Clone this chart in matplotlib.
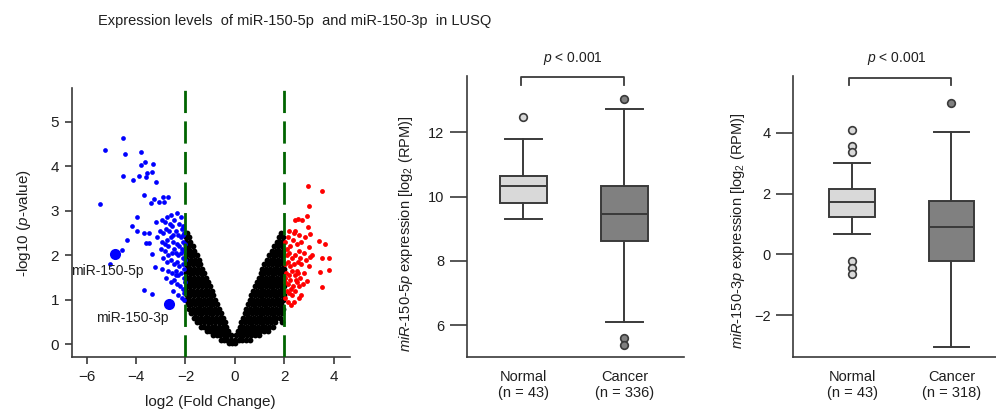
import matplotlib
matplotlib.use('Agg')
import matplotlib.pyplot as plt

plt.rcParams['font.family'] = ['Liberation Sans', 'DejaVu Sans']
plt.rcParams['mathtext.fontset'] = 'custom'
plt.rcParams['mathtext.rm'] = 'Liberation Sans'
plt.rcParams['mathtext.it'] = 'Liberation Sans:italic'
plt.rcParams['mathtext.bf'] = 'Liberation Sans:bold'

TXT = '#1f1f1f'
AX = '#3a3a3a'

# ---- volcano data ----
blue_x = [-4.55, -5.25, -4.44, -3.81, -3.64, -3.79, -3.30, -4.52, -4.11, -3.87, -3.62, -3.37, -3.57,
          -3.19, -3.70, -5.45, -3.28, -2.91, -2.71, -3.07, -2.88, -3.38, -3.96, -4.15, -3.96, -4.35,
          -4.59, -5.06, -3.69, -3.48, -3.49, -3.62, -3.34, -3.25, -3.69, -3.36,
          -2.95, -2.85, -2.75, -2.60, -2.45, -2.35, -2.25, -2.15, -2.05,
          -3.05, -2.90, -2.80, -2.65, -2.55, -2.40, -2.30, -2.20, -2.10, -2.02,
          -3.15, -2.95, -2.75, -2.60, -2.50, -2.35, -2.25, -2.15, -2.05,
          -3.00, -2.85, -2.70, -2.55, -2.45, -2.30, -2.20, -2.10, -2.03,
          -2.90, -2.75, -2.60, -2.45, -2.35, -2.25, -2.12, -2.05,
          -2.95, -2.70, -2.55, -2.40, -2.30, -2.18, -2.08, -2.02,
          -2.80, -2.60, -2.45, -2.35, -2.22, -2.12, -2.05,
          -2.50, -2.30, -2.15, -2.04, -2.40, -2.62, -2.50, -2.85, -3.20, -2.40, -2.70, -2.20, -2.10, -2.12]
blue_y = [4.64, 4.36, 4.28, 4.32, 4.10, 4.02, 4.06, 3.77, 3.68, 3.77, 3.75, 3.86, 3.84,
          3.64, 3.35, 3.16, 3.26, 3.30, 3.32, 3.19, 3.20, 3.17, 2.87, 2.66, 2.54, 2.34,
          2.12, 1.80, 2.51, 2.51, 2.28, 2.28, 2.02, 1.74, 1.22, 1.12,
          2.80, 2.75, 2.85, 2.90, 2.80, 2.95, 2.70, 2.60, 2.50,
          2.55, 2.50, 2.60, 2.55, 2.65, 2.55, 2.45, 2.40, 2.30, 2.25,
          2.40, 2.30, 2.35, 2.40, 2.30, 2.25, 2.20, 2.15, 2.10,
          2.15, 2.10, 2.20, 2.05, 2.15, 2.00, 2.05, 1.95, 1.90,
          1.95, 1.85, 1.90, 1.80, 1.85, 1.75, 1.80, 1.70,
          1.70, 1.65, 1.60, 1.65, 1.55, 1.60, 1.50, 1.40,
          1.50, 1.40, 1.45, 1.35, 1.30, 1.25, 1.15,
          1.20, 1.10, 1.05, 1.00, 1.55, 2.70, 2.45, 2.25, 2.75, 2.05, 2.00, 2.85, 2.65, 2.45]

red_x = [2.97, 3.53, 3.02, 2.93, 2.44, 2.55, 2.71, 2.97, 2.21, 2.43, 3.06, 3.40, 3.64, 2.99,
         3.13, 3.06, 3.53, 3.83, 3.46, 3.83, 3.53, 2.93, 2.26,
         2.05, 2.15, 2.25, 2.35, 2.50, 2.60, 2.70, 2.20, 2.10, 2.30, 2.45, 2.60, 2.80, 2.90,
         2.05, 2.15, 2.25, 2.40, 2.55, 2.70, 3.00, 2.08, 2.18, 2.30, 2.42, 2.55, 2.65, 2.80,
         2.05, 2.15, 2.25, 2.35, 2.50, 2.62, 2.75, 2.10, 2.20, 2.32, 2.45, 2.58, 2.05, 2.15,
         2.40, 2.70, 2.50, 2.12, 2.38, 2.85, 2.03, 2.28, 2.65, 2.48]
red_y = [3.56, 3.44, 3.11, 2.88, 2.80, 2.81, 2.79, 2.64, 2.55, 2.55, 2.48, 2.31, 2.26, 2.19,
         2.01, 1.97, 1.93, 1.93, 1.62, 1.67, 1.28, 1.42, 0.88,
         2.30, 2.40, 2.20, 2.35, 2.25, 2.45, 2.30, 2.05, 2.00, 1.95, 2.00, 2.10, 2.05, 1.90,
         1.80, 1.85, 1.75, 1.80, 1.85, 1.80, 1.75, 1.60, 1.55, 1.65, 1.55, 1.60, 1.50, 1.60,
         1.40, 1.35, 1.45, 1.30, 1.40, 1.30, 1.35, 1.20, 1.15, 1.10, 1.20, 1.05, 1.05, 0.95,
         0.95, 1.10, 1.65, 2.15, 2.50, 2.40, 1.50, 1.25, 1.95, 1.45]

# black (non-significant) points, one list of x per row of -log10(p)
black_left_y = [2.50, 2.40, 2.30, 2.20, 2.10, 2.00, 1.90, 1.80, 1.70, 1.60, 1.50, 1.40, 1.30,
                1.20, 1.10, 1.00, 0.90, 0.80, 0.70, 0.60, 0.50, 0.40, 0.30, 0.20, 0.10, 0.03]
black_left_x = [
    [-1.92],
    [-1.97, -1.85],
    [-1.96, -1.82],
    [-1.98, -1.84, -1.70],
    [-1.95, -1.80, -1.64],
    [-1.97, -1.83, -1.68, -1.55],
    [-1.94, -1.79, -1.62, -1.47],
    [-1.98, -1.84, -1.70, -1.55, -1.40],
    [-1.95, -1.80, -1.66, -1.50, -1.33],
    [-1.97, -1.83, -1.68, -1.53, -1.39, -1.25],
    [-1.94, -1.80, -1.64, -1.48, -1.32, -1.17],
    [-1.98, -1.84, -1.70, -1.55, -1.40, -1.25, -1.10],
    [-1.95, -1.81, -1.66, -1.50, -1.35, -1.18, -1.02],
    [-1.97, -1.83, -1.68, -1.53, -1.38, -1.22, -1.07, -0.94],
    [-1.94, -1.80, -1.64, -1.48, -1.32, -1.16, -1.00, -0.87],
    [-1.98, -1.84, -1.70, -1.55, -1.40, -1.25, -1.10, -0.95, -0.80],
    [-1.90, -1.76, -1.62, -1.47, -1.32, -1.17, -1.02, -0.87, -0.72],
    [-1.84, -1.70, -1.55, -1.40, -1.25, -1.10, -0.95, -0.80, -0.65],
    [-1.76, -1.62, -1.47, -1.32, -1.17, -1.02, -0.87, -0.72, -0.57],
    [-1.66, -1.52, -1.37, -1.22, -1.07, -0.92, -0.77, -0.62, -0.49],
    [-1.54, -1.40, -1.25, -1.10, -0.95, -0.80, -0.65, -0.50, -0.40],
    [-1.38, -1.24, -1.09, -0.94, -0.79, -0.64, -0.49, -0.34],
    [-1.14, -1.00, -0.85, -0.70, -0.55, -0.40, -0.26],
    [-0.88, -0.74, -0.59, -0.44, -0.30, -0.17],
    [-0.58, -0.44, -0.30, -0.16],
    [-0.25, -0.10, 0.00],
]
black_right_y = [2.50, 2.40, 2.30, 2.20, 2.10, 2.00, 1.90, 1.80, 1.70, 1.60, 1.50, 1.40, 1.30,
                 1.20, 1.10, 1.00, 0.90, 0.80, 0.70, 0.60, 0.50, 0.40, 0.30, 0.20, 0.10]
black_right_x = [
    [1.88],
    [1.80, 1.94],
    [1.70, 1.84, 1.97],
    [1.60, 1.75, 1.90],
    [1.50, 1.65, 1.80, 1.95],
    [1.38, 1.53, 1.68, 1.83, 1.97],
    [1.30, 1.45, 1.60, 1.75, 1.90],
    [1.20, 1.35, 1.50, 1.65, 1.80, 1.95],
    [1.12, 1.27, 1.42, 1.57, 1.72, 1.87, 1.98],
    [1.04, 1.19, 1.34, 1.49, 1.64, 1.79, 1.93],
    [0.96, 1.11, 1.26, 1.41, 1.56, 1.71, 1.86, 1.98],
    [0.88, 1.03, 1.18, 1.33, 1.48, 1.63, 1.78, 1.92],
    [0.81, 0.96, 1.11, 1.26, 1.41, 1.56, 1.71, 1.86, 1.98],
    [0.74, 0.89, 1.04, 1.19, 1.34, 1.49, 1.64, 1.79, 1.93],
    [0.67, 0.82, 0.97, 1.12, 1.27, 1.42, 1.57, 1.72, 1.87, 1.98],
    [0.60, 0.75, 0.90, 1.05, 1.20, 1.35, 1.50, 1.65, 1.80, 1.94],
    [0.53, 0.68, 0.83, 0.98, 1.13, 1.28, 1.43, 1.58, 1.73, 1.88],
    [0.46, 0.61, 0.76, 0.91, 1.06, 1.21, 1.36, 1.51, 1.66, 1.81, 1.96],
    [0.40, 0.55, 0.70, 0.85, 1.00, 1.15, 1.30, 1.45, 1.60, 1.75, 1.90],
    [0.33, 0.48, 0.63, 0.78, 0.93, 1.08, 1.23, 1.38, 1.53, 1.68, 1.82],
    [0.26, 0.41, 0.56, 0.71, 0.86, 1.01, 1.16, 1.31, 1.46, 1.62, 1.92],
    [0.19, 0.34, 0.49, 0.64, 0.79, 0.94, 1.09, 1.24, 1.39, 1.55],
    [0.12, 0.27, 0.42, 0.57, 0.72, 0.87, 1.02, 1.17, 1.35],
    [0.05, 0.20, 0.35, 0.50, 0.65, 0.80, 0.97],
    [0.02, 0.16, 0.31, 0.46, 0.62],
]

mir5p_point = (-4.85, 2.02)
mir3p_point = (-2.68, 0.90)

# ---- box plot data ----
groups = ['Normal', 'Cancer']
n_5p = [43, 336]
n_3p = [43, 318]
# whislo, q1, med, q3, whishi
box_5p = [[9.30, 9.81, 10.33, 10.63, 11.79], [6.11, 8.62, 9.47, 10.33, 12.73]]
fliers_5p = [[12.48], [13.03, 5.60, 5.39]]
box_3p = [[0.68, 1.24, 1.71, 2.14, 2.99], [-3.04, -0.22, 0.91, 1.75, 4.03]]
fliers_3p = [[4.10, 3.56, 3.37, -0.21, -0.44, -0.66], [4.97]]
box_colors = ['#d9d9d9', '#808080']


def flatten_rows(ys, xs):
    px, py = [], []
    for y, row in zip(ys, xs):
        for x in row:
            px.append(x)
            py.append(y)
    return px, py


def style_spines(ax):
    for s in ['top', 'right']:
        ax.spines[s].set_visible(False)
    for s in ['left', 'bottom']:
        ax.spines[s].set_color(AX)
        ax.spines[s].set_linewidth(1.2)


fig = plt.figure(figsize=(9.96, 4.11), dpi=100)
fig.text(0.098, 0.949, 'Expression levels  of miR-150-5p  and miR-150-3p  in LUSQ',
         ha='left', va='center', fontsize=10.5, color=TXT)

# ---- volcano ----
ax1 = fig.add_axes([0.072, 0.1307, 0.279, 0.6545])
style_spines(ax1)
lx, ly = flatten_rows(black_left_y, black_left_x)
rx, ry = flatten_rows(black_right_y, black_right_x)
ax1.plot(lx + rx, ly + ry, 'o', color='black', ms=4.2, mew=0, zorder=2)
ax1.plot(blue_x, blue_y, 'o', color='#0000ff', ms=3.4, mew=0, zorder=3)
ax1.plot(red_x, red_y, 'o', color='#ff0000', ms=3.5, mew=0, zorder=3)
ax1.plot(*mir5p_point, 'o', color='#0000ff', ms=8, mew=0, zorder=4)
ax1.plot(*mir3p_point, 'o', color='#0000ff', ms=8, mew=0, zorder=4)
for xv in [-2, 2]:
    ax1.axvline(xv, color='#006400', lw=2, dashes=(8, 3), zorder=5)
ax1.text(-6.62, 1.65, 'miR-150-5p', ha='left', va='center', fontsize=10, color=TXT, zorder=6)
ax1.text(-5.62, 0.60, 'miR-150-3p', ha='left', va='center', fontsize=10, color=TXT, zorder=6)
ax1.set_xlim(-6.61, 4.65)
ax1.set_ylim(-0.29, 5.75)
ax1.set_xticks([-6, -4, -2, 0, 2, 4])
ax1.set_yticks([0, 1, 2, 3, 4, 5])
ax1.tick_params(length=5, width=1.2, color=AX, labelsize=11, labelcolor=TXT, pad=4)
ax1.set_xlabel('log2 (Fold Change)', fontsize=11, color=TXT, labelpad=8)
ax1.set_ylabel(r'-log10 ($\mathit{p}$-value)', fontsize=11, color=TXT)
ax1.yaxis.set_label_coords(-0.14, 0.5)


def draw_box(ax, stats_in, fliers, ns, label, ylim, xlim, yticks, bracket, ptxt):
    stats = []
    for i, (s, f) in enumerate(zip(stats_in, fliers)):
        stats.append({'whislo': s[0], 'q1': s[1], 'med': s[2], 'q3': s[3],
                      'whishi': s[4], 'fliers': f, 'label': groups[i]})
    res = ax.bxp(stats, positions=[1, 2], widths=0.46, capwidths=0.36,
                 patch_artist=True, showfliers=True,
                 boxprops=dict(edgecolor=AX, linewidth=1.4),
                 whiskerprops=dict(color=AX, linewidth=1.4),
                 capprops=dict(color=AX, linewidth=1.4),
                 medianprops=dict(color=AX, linewidth=1.4),
                 flierprops=dict(marker='o', markersize=5.5, markeredgecolor=AX,
                                 markeredgewidth=1.2))
    for b, c in zip(res['boxes'], box_colors):
        b.set_facecolor(c)
    for fl, c in zip(res['fliers'], box_colors):
        fl.set_markerfacecolor(c)
    style_spines(ax)
    ax.set_xlim(*xlim)
    ax.set_ylim(*ylim)
    ax.set_yticks(yticks)
    ax.set_xticks([1, 2])
    ax.set_xticklabels([f'{g}\n(n = {n})' for g, n in zip(groups, ns)])
    ax.tick_params(axis='x', length=0, pad=9, labelsize=10.5, labelcolor=TXT)
    ax.tick_params(axis='y', length=12, width=1.2, color=AX, pad=4, labelsize=10.5, labelcolor=TXT)
    x0, x1, ytop, yleg = bracket
    ax.plot([x0, x0, x1, x1], [yleg, ytop, ytop, yleg], color=AX, lw=1.3, clip_on=False)
    ax.text(ptxt[0], ptxt[1], r'$\mathit{p}$ < 0.001', ha='center', va='center',
            fontsize=10, color=TXT, clip_on=False)
    ax.set_ylabel(label, fontsize=10.5, color=TXT)


ax2 = fig.add_axes([0.4686, 0.1307, 0.2182, 0.6845])
draw_box(ax2, box_5p, fliers_5p, n_5p,
         r'$\mathit{miR}$-$\mathit{150}$-$\mathit{5p}$ expression [log$_2$ (RPM)]',
         (5.0, 13.75), (0.44, 2.59), [6, 8, 10, 12], (0.98, 2.0, 13.71, 13.47), (1.49, 14.30))
ax2.yaxis.set_label_coords(-0.238, 0.44)

ax3 = fig.add_axes([0.7959, 0.1307, 0.2041, 0.6845])
draw_box(ax3, box_3p, fliers_3p, n_3p,
         r'$\mathit{miR}$-$\mathit{150}$-$\mathit{3p}$ expression [log$_2$ (RPM)]',
         (-3.39, 5.87), (0.40, 2.45), [-2, 0, 2, 4], (0.97, 2.0, 5.81, 5.57), (1.45, 6.45))
ax3.yaxis.set_label_coords(-0.225, 0.449)

fig.savefig('out.png', dpi=100)
